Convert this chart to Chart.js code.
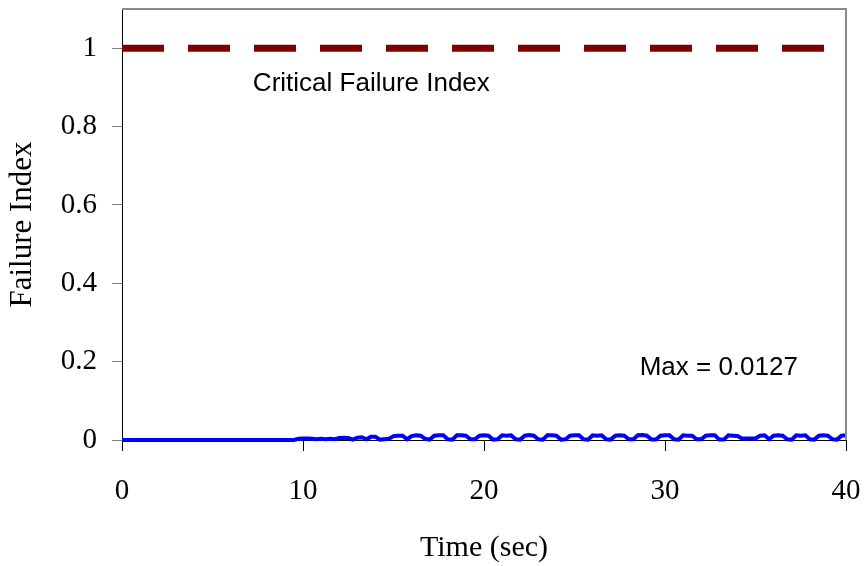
<!DOCTYPE html>
<html>
<head>
<meta charset="utf-8">
<script src="https://cdn.jsdelivr.net/npm/chart.js@4/dist/chart.umd.min.js"></script>
<style>
html,body{margin:0;padding:0;background:#fff;}
#wrap{width:867px;height:566px;}
</style>
</head>
<body>
<div id="wrap"><canvas id="c" width="867" height="566"></canvas></div>
<script>
// ---- data ----
const timeSec = [
  0, 9.5,
  9.75, 10.0, 10.25, 10.5, 10.75, 11.0, 11.25, 11.5, 11.75, 12.0, 12.25, 12.5, 12.75,
  13.0, 13.25, 13.5, 13.75, 14.0, 14.25, 14.5, 14.75, 15.0, 15.25, 15.5, 15.75,
  16.0, 16.25, 16.5, 16.75, 17.0, 17.25, 17.5, 17.75, 18.0, 18.25,
  18.5, 18.75, 19.0, 19.25, 19.5, 19.75, 20.0, 20.25, 20.5, 20.75,
  21.0, 21.25, 21.5, 21.75, 22.0, 22.25, 22.5, 22.75, 23.0, 23.25,
  23.5, 23.75, 24.0, 24.25, 24.5, 24.75, 25.0, 25.25, 25.5, 25.75,
  26.0, 26.25, 26.5, 26.75, 27.0, 27.25, 27.5, 27.75, 28.0, 28.25,
  28.5, 28.75, 29.0, 29.25, 29.5, 29.75, 30.0, 30.25, 30.5, 30.75,
  31.0, 31.25, 31.5, 31.75, 32.0, 32.25, 32.5, 32.75, 33.0, 33.25,
  33.5, 33.75, 34.0, 34.25, 34.5, 34.75, 35.0, 35.25, 35.5, 35.75,
  36.0, 36.25, 36.5, 36.75, 37.0, 37.25, 37.5, 37.75, 38.0, 38.25,
  38.5, 38.75, 39.0, 39.25, 39.5, 39.75, 40.0
];
const failureIndex = [
  0, 0,
  0.003, 0.004, 0.004, 0.003, 0.002, 0.003, 0.002, 0.003, 0.002, 0.005, 0.006, 0.005, 0.001,
  0.006, 0.007, 0.002, 0.008, 0.008, 0.001, 0.002, 0.003, 0.010, 0.011, 0.011, 0.002,
  0.010, 0.012, 0.011, 0.003, 0.001, 0.011, 0.012, 0.012, 0.002, 0.001,
  0.012, 0.012, 0.011, 0.002, 0.002, 0.011, 0.012, 0.011, 0.001, 0.002,
  0.012, 0.011, 0.012, 0.002, 0.001, 0.011, 0.013, 0.011, 0.002, 0.001,
  0.012, 0.012, 0.011, 0.001, 0.002, 0.011, 0.012, 0.012, 0.002, 0.001,
  0.012, 0.011, 0.012, 0.002, 0.001, 0.011, 0.012, 0.011, 0.002, 0.002,
  0.012, 0.0127, 0.011, 0.001, 0.001, 0.011, 0.012, 0.012, 0.002, 0.001,
  0.012, 0.011, 0.011, 0.002, 0.002, 0.011, 0.012, 0.012, 0.001, 0.001,
  0.012, 0.011, 0.010, 0.004, 0.004, 0.004, 0.004, 0.011, 0.012, 0.002,
  0.011, 0.012, 0.011, 0.002, 0.001, 0.012, 0.011, 0.012, 0.002, 0.001,
  0.011, 0.012, 0.011, 0.002, 0.001, 0.011, 0.012
];
const criticalTime = [0, 40];
const criticalIndex = [1, 1];
const xTicks = [0, 10, 20, 30, 40];
const yTicks = [0, 0.2, 0.4, 0.6, 0.8, 1];
const xTitle = 'Time (sec)';
const yTitle = 'Failure Index';
const criticalLabel = 'Critical Failure Index';
const criticalLabelPos = [7.23, 0.91];
const maxLabel = 'Max = 0.0127';
const maxLabelPos = [28.6, 0.183];

// ---- chart ----
const serif = "'Liberation Serif', 'Times New Roman', serif";
const sans = "'Liberation Sans', Arial, sans-serif";

const annotationPlugin = {
  id: 'annotations',
  afterDatasetsDraw(chart) {
    const {ctx, chartArea, scales} = chart;
    ctx.save();
    ctx.strokeStyle = '#8a8a8a';
    ctx.lineWidth = 2;
    ctx.beginPath();
    ctx.moveTo(chartArea.left, chartArea.top);
    ctx.lineTo(chartArea.right, chartArea.top);
    ctx.lineTo(chartArea.right, chartArea.bottom);
    ctx.stroke();
    ctx.fillStyle = '#000';
    ctx.font = '26px ' + sans;
    ctx.textAlign = 'left';
    ctx.textBaseline = 'middle';
    ctx.fillText(criticalLabel, scales.x.getPixelForValue(criticalLabelPos[0]), scales.y.getPixelForValue(criticalLabelPos[1]));
    ctx.fillText(maxLabel, scales.x.getPixelForValue(maxLabelPos[0]), scales.y.getPixelForValue(maxLabelPos[1]));
    ctx.restore();
  }
};

new Chart(document.getElementById('c'), {
  type: 'line',
  data: {
    datasets: [
      {
        label: 'Failure Index',
        data: timeSec.map((t, i) => ({x: t, y: failureIndex[i]})),
        borderColor: '#0000FF',
        borderWidth: 4,
        pointRadius: 0,
        tension: 0,
        clip: false,
        order: 1
      },
      {
        label: criticalLabel,
        data: criticalTime.map((t, i) => ({x: t, y: criticalIndex[i]})),
        borderColor: '#800000',
        borderWidth: 7,
        borderDash: [42, 24],
        borderCapStyle: 'butt',
        pointRadius: 0,
        clip: false,
        order: 2
      }
    ]
  },
  options: {
    responsive: false,
    animation: false,
    events: [],
    layout: {padding: {top: 9, right: 21, left: 0, bottom: 0}},
    plugins: {legend: {display: false}, tooltip: {enabled: false}},
    scales: {
      x: {
        type: 'linear',
        min: 0, max: 40,
        afterBuildTicks: s => { s.ticks = xTicks.map(v => ({value: v})); },
        afterFit: s => { s.height = 126; s.paddingLeft = 0; s.paddingRight = 0; },
        ticks: {color: '#000', font: {family: serif, size: 29}, padding: 23, maxRotation: 0, callback: v => String(v)},
        grid: {drawOnChartArea: false, drawTicks: true, tickLength: 11, tickColor: '#000'},
        border: {display: true, color: '#000', width: 1},
        title: {display: true, text: xTitle, color: '#000', font: {family: serif, size: 30}, padding: {top: 0, bottom: 0}}
      },
      y: {
        type: 'linear',
        min: 0, max: 1.1,
        afterBuildTicks: s => { s.ticks = yTicks.map(v => ({value: v})); },
        afterFit: s => { s.width = 122; s.paddingTop = 0; s.paddingBottom = 0; },
        ticks: {color: '#000', font: {family: serif, size: 29}, padding: 15, callback: v => String(v)},
        grid: {drawOnChartArea: false, drawTicks: true, tickLength: 10, tickColor: '#808080'},
        border: {display: true, color: '#000', width: 1},
        title: {display: true, text: yTitle, color: '#000', font: {family: serif, size: 31}, padding: {top: 4, bottom: 0}}
      }
    }
  },
  plugins: [annotationPlugin]
});
</script>
</body>
</html>
